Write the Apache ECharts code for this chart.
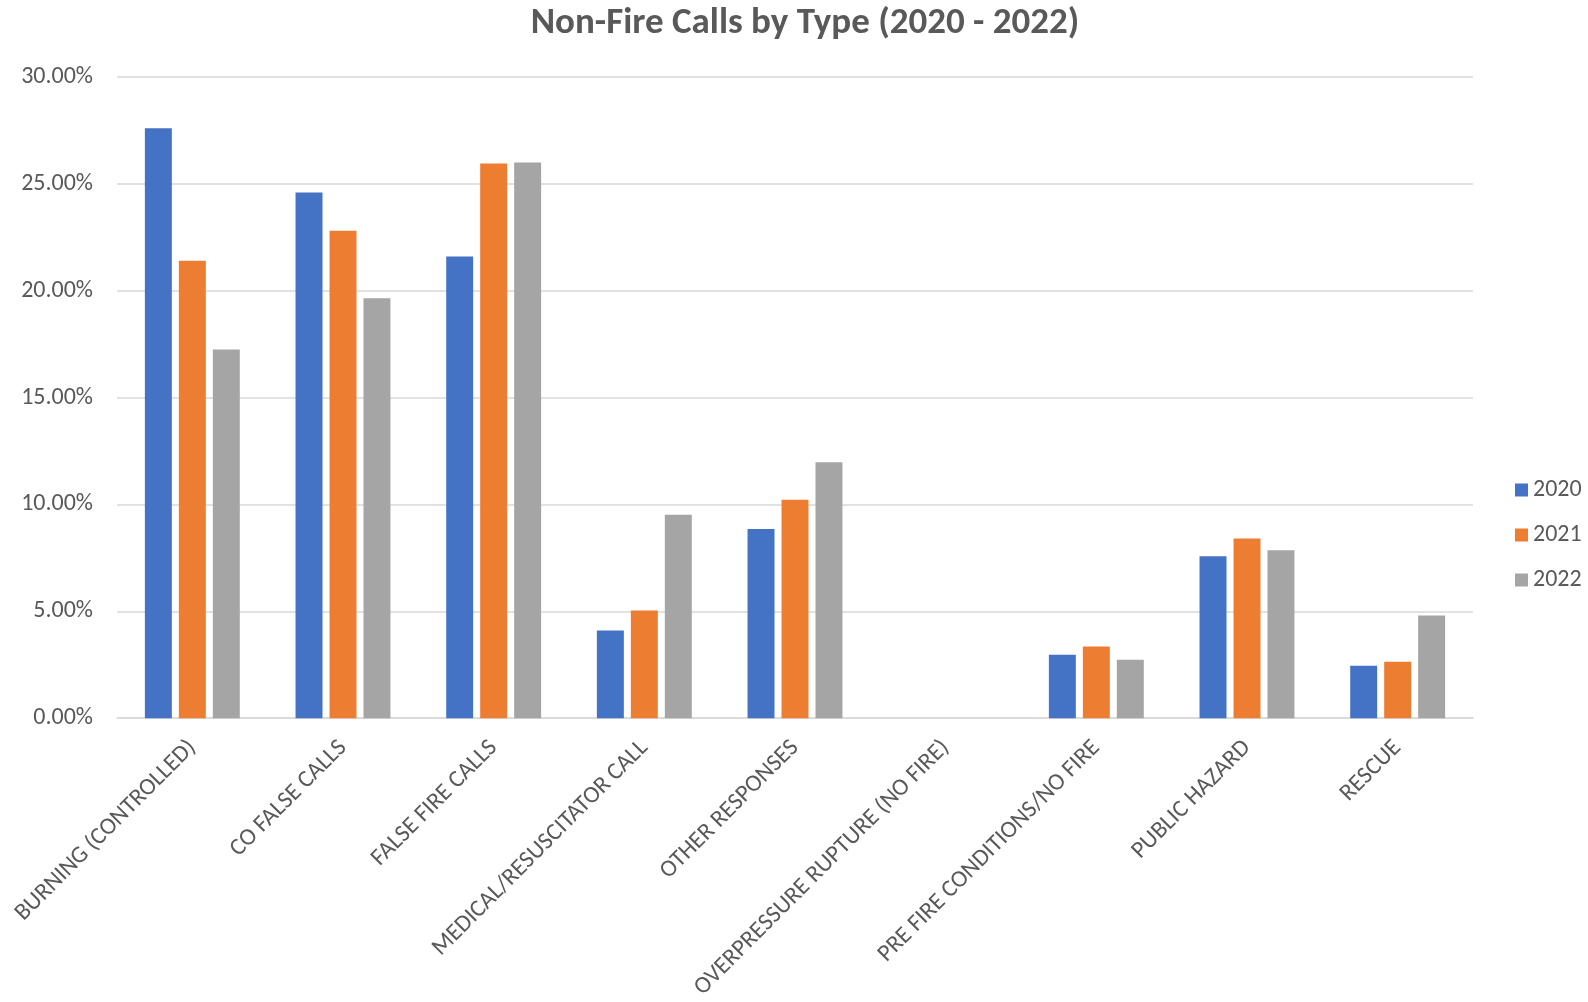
<!DOCTYPE html>
<html>
<head>
<meta charset="utf-8">
<script src="https://cdn.jsdelivr.net/npm/echarts@6/dist/echarts.min.js"></script>
<style>
html,body{margin:0;padding:0;background:#fff;}
#chart{width:1588px;height:1002px;}
</style>
</head>
<body>
<div id="chart"></div>
<script>
var categories = ["BURNING (CONTROLLED)", "CO FALSE CALLS", "FALSE FIRE CALLS", "MEDICAL/RESUSCITATOR CALL", "OTHER RESPONSES", "OVERPRESSURE RUPTURE (NO FIRE)", "PRE FIRE CONDITIONS/NO FIRE", "PUBLIC HAZARD", "RESCUE"];
var values2020 = [27.6, 24.6, 21.6, 4.1, 8.85, 0, 2.97, 7.58, 2.45];
var values2021 = [21.4, 22.8, 25.95, 5.04, 10.22, 0, 3.35, 8.4, 2.64];
var values2022 = [17.25, 19.65, 26.0, 9.52, 11.97, 0, 2.73, 7.85, 4.8];
var seriesNames = ["2020", "2021", "2022"];
var colors = ["#4472C4", "#ED7D31", "#A5A5A5"];

var font = "Carlito, Calibri, Lato, 'Open Sans', 'Liberation Sans', sans-serif";
var chart = echarts.init(document.getElementById('chart'));
var data = [values2020, values2021, values2022];
chart.setOption({
  animation: false,
  title: {
    text: "Non-Fire Calls by Type (2020 - 2022)",
    left: 800, top: 0, textAlign: 'center',
    textStyle: {fontFamily: font, fontSize: 37, fontWeight: 'bold', color: '#595959'}
  },
  legend: {
    orient: 'vertical', left: 1510, top: 473, itemGap: 21,
    itemWidth: 13, itemHeight: 13, icon: 'rect',
    textStyle: {fontFamily: font, fontSize: 24, color: '#595959'},
    data: seriesNames
  },
  grid: {left: 117, right: 115, top: 77, bottom: 280},
  xAxis: {
    type: 'category', data: categories,
    axisLine: {lineStyle: {color: '#d9d9d9', width: 1.5}},
    axisTick: {show: false},
    axisLabel: {rotate: 45, interval: 0, margin: 26, fontFamily: font, fontSize: 24, color: '#595959'}
  },
  yAxis: {
    type: 'value', min: 0, max: 30, interval: 5,
    axisLine: {show: false}, axisTick: {show: false},
    splitLine: {lineStyle: {color: '#d9d9d9', width: 1.5}},
    axisLabel: {margin: 24, fontFamily: font, fontSize: 24, color: '#595959',
      formatter: function(v){ return v.toFixed(2) + '%'; }}
  },
  series: seriesNames.map(function(n, i){
    return {
      name: n, type: 'bar', data: data[i],
      barGap: '26%', barCategoryGap: '37%',
      itemStyle: {color: colors[i]}
    };
  })
});
</script>
</body>
</html>
